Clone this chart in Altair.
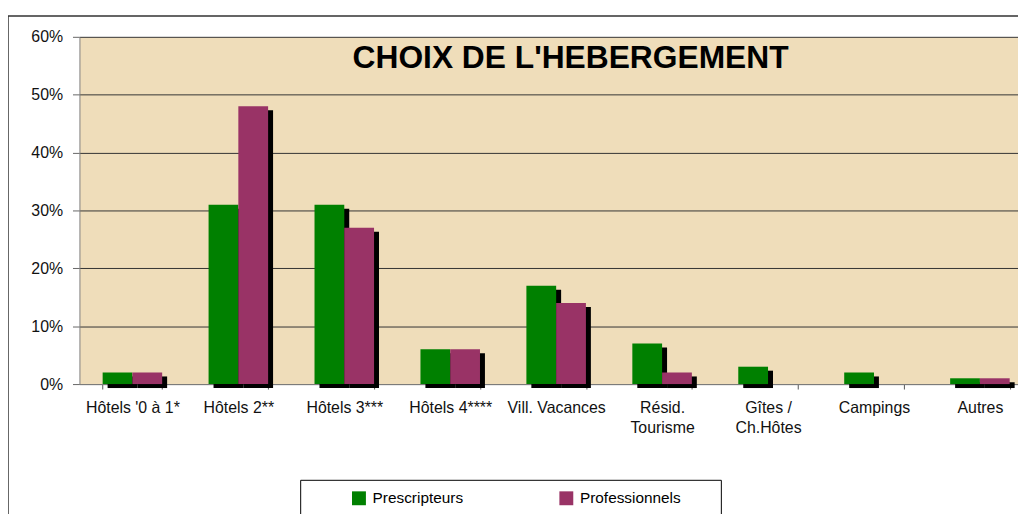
import altair as alt
import pandas as pd

categories = ["Hôtels '0 à 1*", "Hôtels 2**", "Hôtels 3***", "Hôtels 4****",
              "Vill. Vacances", "Résid.\nTourisme", "Gîtes /\nCh.Hôtes",
              "Campings", "Autres"]
prescripteurs = [2, 31, 31, 6, 17, 7, 3, 2, 1]
professionnels = [2, 48, 27, 6, 14, 2, 0, 0, 1]
series = ["Prescripteurs", "Professionnels"]
colors = ["#008000", "#993366"]
y_ticks = [0, 10, 20, 30, 40, 50, 60]
title_text = "CHOIX DE L'HEBERGEMENT"

rows = []
for c, a, b in zip(categories, prescripteurs, professionnels):
    rows.append({"cat": c, "serie": series[0], "val": a})
    rows.append({"cat": c, "serie": series[1], "val": b})
df = pd.DataFrame(rows)

FONT = "Liberation Sans"

x_enc = alt.X(
    "cat:N", sort=categories, title=None,
    scale=alt.Scale(range=[0, 961], paddingInner=0.438, paddingOuter=0.219),
    axis=alt.Axis(labelAngle=0, tickBand="extent", grid=False,
                  labelExpr="split(datum.label, '\\n')",
                  labelFont=FONT, labelFontSize=16, labelColor="#111111",
                  labelPadding=11, labelLineHeight=20,
                  domainColor="#808080", tickColor="#555555", tickSize=5),
)
y_enc = alt.Y(
    "val:Q", title=None,
    scale=alt.Scale(domain=[0, 60], nice=False),
    axis=alt.Axis(values=y_ticks, labelExpr="datum.value + '%'",
                  labelFont=FONT, labelFontSize=16, labelColor="#111111",
                  labelPadding=10, tickSize=7, tickColor="#666666",
                  domainColor="#808080", gridColor="#333333", gridWidth=1),
)
color_enc = alt.Color(
    "serie:N", sort=series,
    scale=alt.Scale(domain=series, range=colors),
    legend=alt.Legend(orient="none", legendX=274, legendY=457,
                      direction="horizontal", title=None,
                      symbolType="square", symbolSize=196,
                      symbolStrokeWidth=0, symbolOpacity=1,
                      labelFont=FONT, labelFontSize=15.5,
                      labelColor="black", columnPadding=96,
                      labelOffset=6, padding=0),
)

base = alt.Chart(df)
offsets = [-15, 15]

layers = []
for s, off in zip(series, offsets):
    layers.append(
        base.transform_filter(alt.datum.serie == s)
        .transform_filter("datum.val > 0")
        .mark_bar(color="black", width=30, xOffset=off + 5,
                  yOffset=4, y2Offset=1.5)
        .encode(x=x_enc, y=y_enc)
    )
for s, off in zip(series, offsets):
    layers.append(
        base.transform_filter(alt.datum.serie == s)
        .mark_bar(width=30, xOffset=off)
        .encode(x=x_enc, y=y_enc, color=color_enc)
    )

title = alt.Chart(pd.DataFrame({"t": [title_text]})).mark_text(
    font=FONT, fontSize=32, fontWeight="bold", color="black",
    align="center", baseline="alphabetic"
).encode(text="t:N", x=alt.value(495), y=alt.value(31))

frame = alt.Chart(pd.DataFrame({"a": [0]})).mark_rect(
    fill="transparent", stroke="#333333", strokeWidth=1.5
).encode(x=alt.value(-72), x2=alt.value(960), y=alt.value(-21), y2=alt.value(530))

legend_box = alt.Chart(pd.DataFrame({"a": [0]})).mark_rect(
    fill="white", stroke="black", strokeWidth=1
).encode(x=alt.value(223), x2=alt.value(647), y=alt.value(447), y2=alt.value(530))

chart = alt.layer(*layers, title, frame, legend_box).properties(
    width=946, height=350, autosize="none",
    padding={"left": 72, "top": 27, "right": 0, "bottom": 140},
    background="white",
).configure_view(fill="#EFDDBA", stroke="transparent")

chart.save("out.html", embed_options={"renderer": "svg", "actions": False})
